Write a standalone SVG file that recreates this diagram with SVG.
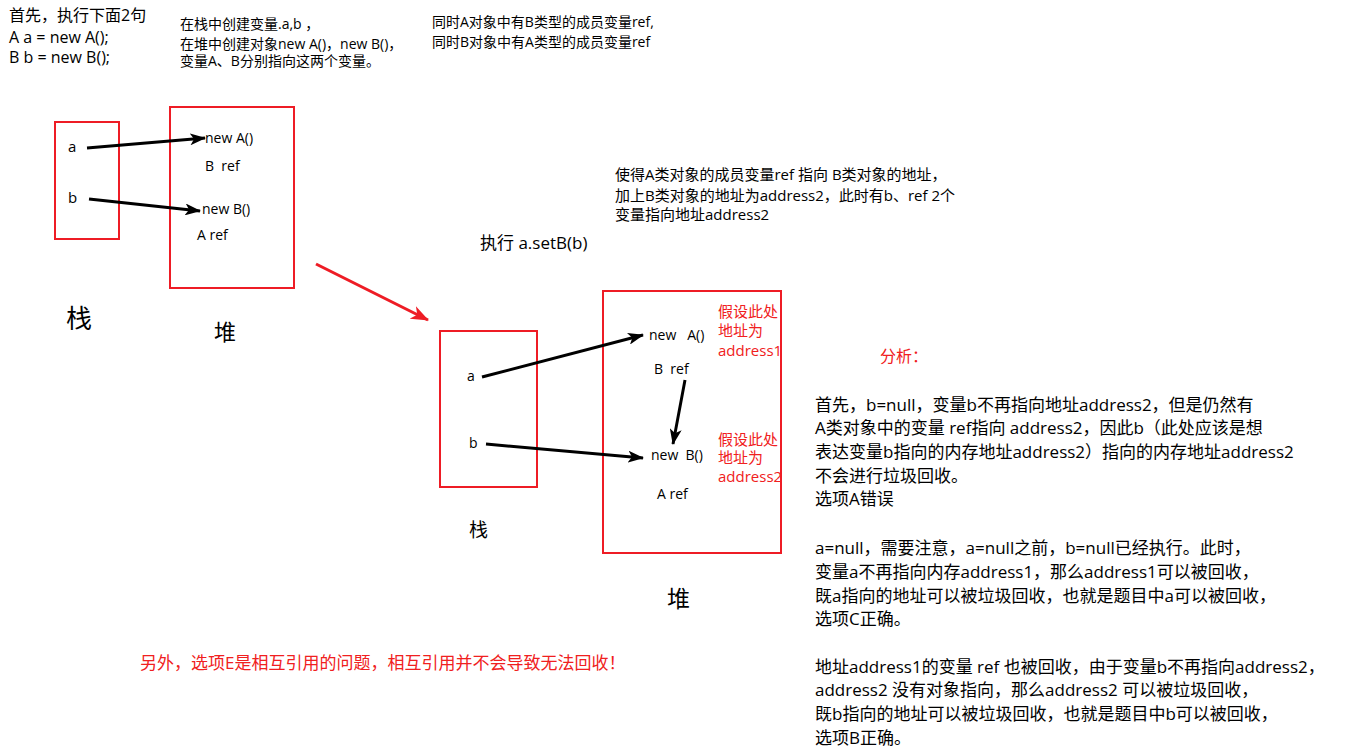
<svg xmlns="http://www.w3.org/2000/svg" width="1357" height="749" viewBox="0 0 1357 749">
<style>
text{font-family:"Open Sans","Noto Sans CJK SC",sans-serif;fill:#000}
.red{fill:#f02020}
.box{fill:none;stroke:#ee1c25;stroke-width:2}
.arr{stroke:#000;stroke-width:3;fill:none;marker-end:url(#ah)}
.rarr{stroke:#ee1c25;stroke-width:3;fill:none;marker-end:url(#rh)}
.t14{font-size:14px}.t15{font-size:15px}.t16{font-size:16px}.t17{font-size:17px}
</style>
<defs>
<marker id="ah" markerUnits="userSpaceOnUse" markerWidth="16" markerHeight="12" refX="15" refY="6" orient="auto"><path d="M0,0 L16,6 L0,12 L4,6 Z" fill="#000"/></marker>
<marker id="rh" markerUnits="userSpaceOnUse" markerWidth="18" markerHeight="14" refX="17" refY="7" orient="auto"><path d="M0,0 L18,7 L0,14 L5,7 Z" fill="#ee1c25"/></marker>
</defs>
<rect width="1357" height="749" fill="#fff"/>

<g id="intro">
<text class="t16" x="9" y="21">首先，执行下面2句</text>
<text class="t16" x="9" y="43">A a = new A();</text>
<text class="t16" x="9" y="63">B b = new B();</text>
</g>
<g id="note1" class="t14">
<text x="180" y="29">在栈中创建变量.a,b ，</text>
<text x="180" y="49">在堆中创建对象new A()，new B()，</text>
<text x="180" y="66">变量A、B分别指向这两个变量。</text>
</g>
<g id="note2" class="t14">
<text x="432" y="27">同时A对象中有B类型的成员变量ref,</text>
<text x="432" y="47">同时B对象中有A类型的成员变量ref</text>
</g>

<g id="stack1">
<rect class="box" x="55" y="122" width="64" height="117"/>
<text class="t15" x="68" y="152">a</text>
<text class="t15" x="68" y="203">b</text>
<text x="66" y="328" font-size="26">栈</text>
</g>
<g id="heap1">
<rect class="box" x="170" y="107" width="124" height="181"/>
<text class="t14" x="205" y="143">new A()</text>
<text class="t14" x="205" y="171" xml:space="preserve">B  ref</text>
<text class="t14" x="202" y="214">new B()</text>
<text class="t14" x="197" y="240">A ref</text>
<text x="214" y="340" font-size="22">堆</text>
</g>

<g id="note3" class="t15">
<text x="615" y="180">使得A类对象的成员变量ref 指向 B类对象的地址，</text>
<text x="615" y="201">加上B类对象的地址为address2，此时有b、ref 2个</text>
<text x="615" y="220">变量指向地址address2</text>
</g>
<text class="t17" x="480" y="249">执行 a.setB(b)</text>

<g id="stack2">
<rect class="box" x="440" y="331" width="97" height="156"/>
<text class="t14" x="467" y="381">a</text>
<text class="t14" x="469" y="448">b</text>
<text x="469" y="537" font-size="19">栈</text>
</g>
<g id="heap2">
<rect class="box" x="603" y="291" width="178" height="262"/>
<text class="t14" x="649" y="340" xml:space="preserve">new   A()</text>
<text class="t14" x="654" y="374" xml:space="preserve">B  ref</text>
<text class="t14" x="651" y="460" xml:space="preserve">new  B()</text>
<text class="t14" x="657" y="499">A ref</text>
<text class="t15 red" x="718" y="317">假设此处</text>
<text class="t15 red" x="718" y="336">地址为</text>
<text class="t15 red" x="718" y="356">address1</text>
<text class="t15 red" x="718" y="445">假设此处</text>
<text class="t15 red" x="718" y="463">地址为</text>
<text class="t15 red" x="718" y="482">address2</text>
<text x="667" y="607" font-size="23">堆</text>
</g>

<g id="connectors">
<line class="arr" x1="87" y1="148" x2="205" y2="138"/>
<line class="arr" x1="89" y1="199" x2="200" y2="211"/>
<line class="rarr" x1="316" y1="264" x2="428" y2="320"/>
<line class="arr" x1="482" y1="377" x2="643" y2="335"/>
<line class="arr" x1="486" y1="444" x2="643" y2="458"/>
<line class="arr" x1="685" y1="380" x2="673" y2="444"/>
</g>

<g id="analysis" class="t17">
<text class="red t16" x="880" y="362">分析：</text>
<text x="815" y="411">首先，b=null，变量b不再指向地址address2，但是仍然有</text>
<text x="815" y="434">A类对象中的变量 ref指向 address2，因此b（此处应该是想</text>
<text x="815" y="458">表达变量b指向的内存地址address2）指向的内存地址address2</text>
<text x="815" y="482">不会进行垃圾回收。</text>
<text x="815" y="505">选项A错误</text>
<text x="815" y="554">a=null，需要注意，a=null之前，b=null已经执行。此时，</text>
<text x="815" y="578">变量a不再指向内存address1，那么address1可以被回收，</text>
<text x="815" y="602">既a指向的地址可以被垃圾回收，也就是题目中a可以被回收，</text>
<text x="815" y="625">选项C正确。</text>
<text x="815" y="673">地址address1的变量 ref 也被回收，由于变量b不再指向address2，</text>
<text x="815" y="696">address2 没有对象指向，那么address2 可以被垃圾回收，</text>
<text x="815" y="720">既b指向的地址可以被垃圾回收，也就是题目中b可以被回收，</text>
<text x="815" y="744">选项B正确。</text>
</g>

<text class="red t17" x="140" y="669">另外，选项E是相互引用的问题，相互引用并不会导致无法回收！</text>
</svg>
